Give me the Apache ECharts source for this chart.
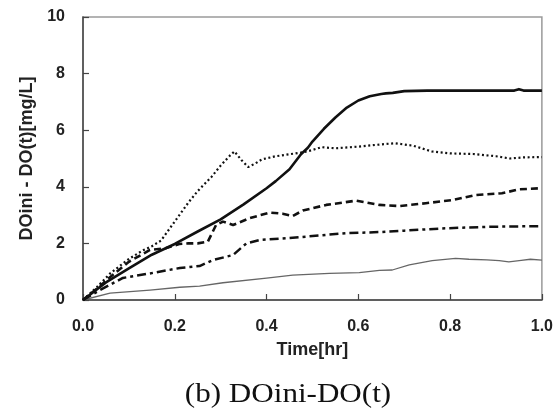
<!DOCTYPE html>
<html>
<head>
<meta charset="utf-8">
<script src="https://cdn.jsdelivr.net/npm/echarts@6/dist/echarts.min.js"></script>
<style>html,body{margin:0;padding:0;background:#fff;}#c{width:556px;height:411px;}</style>
</head>
<body>
<div id="c"></div>
<script>
// Tick labels / axis ranges
var xTicks = [0, 0.2, 0.4, 0.6, 0.8, 1.0];
var yTicks = [0, 2, 4, 6, 8, 10];

// Thick solid series
var t1 = [0, 0.02, 0.05, 0.1, 0.15, 0.2, 0.25, 0.3, 0.35, 0.4, 0.42, 0.45, 0.475, 0.49, 0.5, 0.525, 0.55, 0.575, 0.6, 0.625, 0.65, 0.66, 0.675, 0.7, 0.75, 0.8, 0.9, 0.94, 0.95, 0.96, 1.0];
var v1 = [0, 0.25, 0.62, 1.12, 1.6, 1.98, 2.42, 2.85, 3.38, 3.95, 4.2, 4.62, 5.15, 5.38, 5.6, 6.05, 6.45, 6.8, 7.05, 7.2, 7.28, 7.3, 7.32, 7.38, 7.4, 7.4, 7.4, 7.4, 7.45, 7.4, 7.4];

// Dotted series
var t2 = [0, 0.03, 0.06, 0.1, 0.13, 0.15, 0.17, 0.19, 0.21, 0.23, 0.25, 0.28, 0.3, 0.32, 0.33, 0.345, 0.36, 0.375, 0.39, 0.42, 0.45, 0.48, 0.5, 0.52, 0.55, 0.6, 0.65, 0.68, 0.72, 0.76, 0.8, 0.85, 0.9, 0.93, 0.96, 1.0];
var v2 = [0, 0.45, 0.95, 1.45, 1.75, 1.9, 2.1, 2.55, 3.0, 3.45, 3.85, 4.35, 4.75, 5.1, 5.25, 4.95, 4.7, 4.82, 4.97, 5.08, 5.15, 5.22, 5.3, 5.4, 5.36, 5.42, 5.5, 5.54, 5.45, 5.25, 5.18, 5.16, 5.08, 5.0, 5.04, 5.05];

// Dashed series
var t3 = [0, 0.03, 0.06, 0.1, 0.146, 0.18, 0.21, 0.23, 0.25, 0.272, 0.29, 0.305, 0.327, 0.363, 0.407, 0.435, 0.457, 0.479, 0.53, 0.595, 0.646, 0.689, 0.747, 0.805, 0.856, 0.913, 0.95, 1.0];
var v3 = [0, 0.4, 0.82, 1.35, 1.77, 1.83, 1.98, 2.0, 2.0, 2.06, 2.65, 2.77, 2.65, 2.89, 3.09, 3.05, 2.97, 3.16, 3.36, 3.51, 3.36, 3.32, 3.42, 3.53, 3.71, 3.77, 3.91, 3.95];

// Dash-dot series
var t4 = [0, 0.037, 0.087, 0.146, 0.211, 0.254, 0.283, 0.327, 0.356, 0.385, 0.443, 0.5, 0.573, 0.646, 0.7, 0.783, 0.891, 1.0];
var v4 = [0, 0.35, 0.78, 0.94, 1.13, 1.2, 1.41, 1.59, 2.0, 2.12, 2.18, 2.26, 2.36, 2.4, 2.45, 2.53, 2.59, 2.61];

// Thin solid series
var t5 = [0, 0.059, 0.146, 0.211, 0.254, 0.305, 0.4, 0.457, 0.537, 0.602, 0.646, 0.674, 0.711, 0.761, 0.812, 0.841, 0.88, 0.907, 0.928, 0.955, 0.975, 1.0];
var v5 = [0, 0.24, 0.35, 0.45, 0.49, 0.61, 0.77, 0.88, 0.94, 0.97, 1.05, 1.06, 1.24, 1.39, 1.47, 1.44, 1.42, 1.39, 1.35, 1.4, 1.44, 1.41];

var xName = 'Time[hr]';
var yName = 'DOini - DO(t)[mg/L]';
var caption = '(b) DOini-DO(t)';

function pairs(t, v) { return t.map(function (x, i) { return [x, v[i]]; }); }

var fontSans = 'Liberation Sans, Arial, sans-serif';
var chart = echarts.init(document.getElementById('c'), null, { renderer: 'canvas' });

function line(t, v, color, width, type) {
  return {
    type: 'line', data: pairs(t, v), showSymbol: false, symbol: 'none', smooth: false,
    animation: false,
    lineStyle: { color: color, width: width, type: type, cap: 'butt', join: 'round' }
  };
}

chart.setOption({
  animation: false,
  backgroundColor: '#fff',
  grid: { left: 83, top: 17, right: 13, bottom: 111, show: true, borderColor: '#9a9a9a', borderWidth: 1.5, containLabel: false },
  xAxis: {
    type: 'value', min: xTicks[0], max: xTicks[xTicks.length - 1], interval: 0.2,
    name: xName, nameLocation: 'middle', nameGap: 41,
    nameTextStyle: { fontFamily: fontSans, fontWeight: 'bold', fontSize: 18, color: '#222' },
    axisLine: { show: true, lineStyle: { color: '#444', width: 1.5 } },
    axisTick: { show: true, inside: true, length: 6, lineStyle: { color: '#444', width: 1.2 } },
    axisLabel: { margin: 19, fontFamily: fontSans, fontWeight: 'bold', fontSize: 16, color: '#222',
      formatter: function (v) { return v.toFixed(1); } },
    splitLine: { show: false }
  },
  yAxis: {
    type: 'value', min: yTicks[0], max: yTicks[yTicks.length - 1], interval: 2,
    name: yName, nameLocation: 'middle', nameGap: 47, nameRotate: 90,
    nameTextStyle: { fontFamily: fontSans, fontWeight: 'bold', fontSize: 18, color: '#222' },
    axisLine: { show: true, lineStyle: { color: '#444', width: 1.5 } },
    axisTick: { show: true, inside: true, length: 6, lineStyle: { color: '#444', width: 1.2 } },
    axisLabel: { margin: 18, fontFamily: fontSans, fontWeight: 'bold', fontSize: 16, color: '#222' },
    splitLine: { show: false }
  },
  graphic: [{
    type: 'text', x: 288, y: 395, scaleX: 1.11,
    style: { text: caption, textAlign: 'center', textVerticalAlign: 'middle', verticalAlign: 'middle', align: 'center',
      font: '28px "Liberation Serif", "Times New Roman", serif', fill: '#111' }
  }],
  series: [
    line(t5, v5, '#666', 1.3, 'solid'),
    line(t4, v4, '#111', 2.5, [9, 4, 3, 4]),
    line(t3, v3, '#111', 2.6, [7, 4]),
    line(t2, v2, '#111', 2.2, [2, 2.6]),
    line(t1, v1, '#111', 2.6, 'solid')
  ]
});
</script>
</body>
</html>
